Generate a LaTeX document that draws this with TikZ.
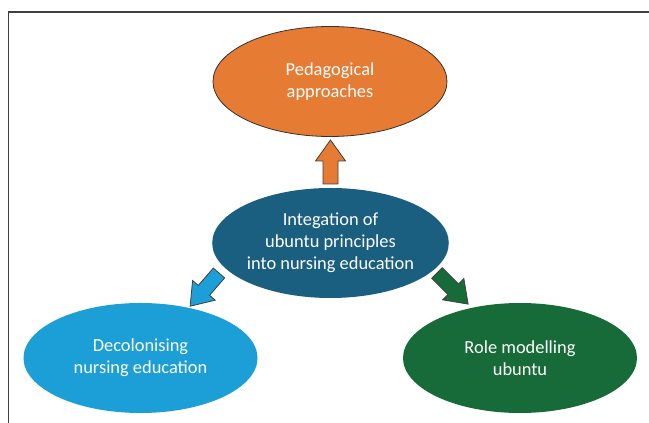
\documentclass[tikz,border=0pt]{standalone}
\usepackage{fontspec}
\setmainfont{Carlito}
\usetikzlibrary{shapes.geometric}

\definecolor{pedorange}{HTML}{E67B33}
\definecolor{ubuntublue}{HTML}{1A5F80}
\definecolor{decolblue}{HTML}{1C9ED6}
\definecolor{rolegreen}{HTML}{176B38}

\tikzset{
  theme/.style={ellipse, inner sep=0pt, minimum width=175.5pt, minimum height=82.5pt,
                text=white, align=center, font=\fontsize{13.8}{16.5}\selectfont},
  blockarrow/.pic={
    \draw[pic actions, draw=black!75, line width=0.6pt, line join=miter]
      (0,-7.5) -- (23,-7.5) -- (23,-15) -- (44,0) -- (23,15) -- (23,7.5) -- (0,7.5) -- cycle;
  },
}

\begin{document}
\begin{tikzpicture}[x=0.75pt, y=-0.75pt,
                    frame/.style={draw=black!75, line width=0.9pt}]
  \useasboundingbox (0,0) rectangle (649,423);
  \draw[frame] (8.5,423) -- (8.5,12) -- (649,12);

  \node[theme, fill=pedorange, draw=black!80, line width=0.6pt] (approaches) at (330,81.5) {Pedagogical\\approaches};
  \node[theme, fill=ubuntublue] (integration) at (330.5,243) {Integation of\\ubuntu principles\\into nursing education};
  \node[theme, fill=decolblue] (decolonising) at (140.5,358) {Decolonising\\nursing education};
  \node[theme, fill=rolegreen] (rolemodel) at (520,358) {Role modelling\\ubuntu};

  \pic[fill=pedorange, rotate=90] at (330.5,184) {blockarrow};
  \pic[fill=decolblue, rotate=229] at (219,273) {blockarrow};
  \pic[fill=rolegreen, rotate=-45] at (437,273) {blockarrow};
\end{tikzpicture}
\end{document}
